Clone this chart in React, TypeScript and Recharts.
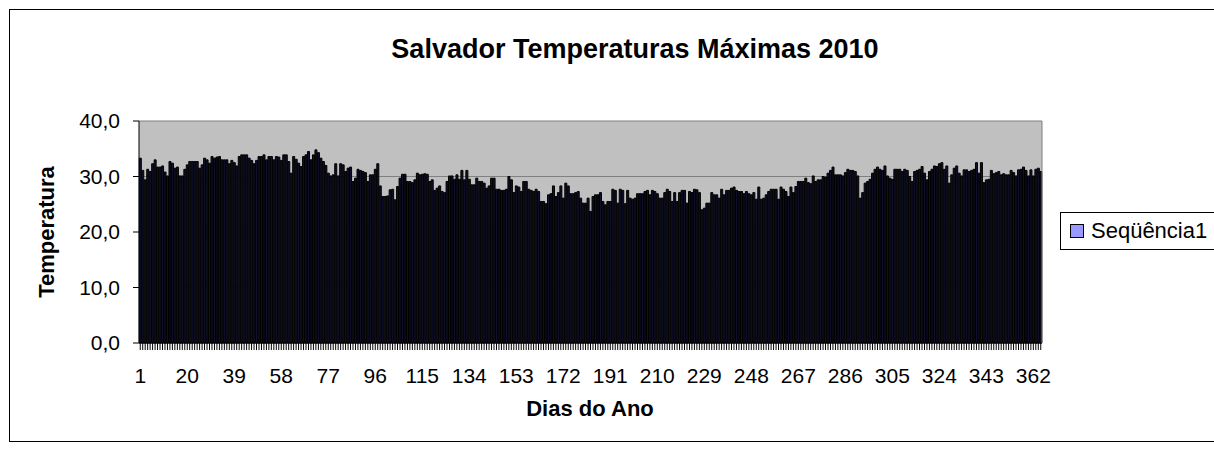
import { BarChart, Bar, XAxis, YAxis, CartesianGrid } from "recharts";

const FONT = '"Liberation Sans", Arial, sans-serif';

// temperaturas máximas diárias (°C), em blocos de 73 dias
const tmaxDias1a73 = [
  33.3, 31.1, 29.4, 31.3, 30.9, 32.3, 33.0, 31.7, 31.7, 31.9,
  30.8, 30.1, 32.7, 32.4, 31.5, 31.7, 30.1, 30.1, 31.3, 32.1,
  32.7, 32.7, 32.7, 32.7, 31.5, 32.1, 33.3, 33.0, 32.4, 33.6,
  33.3, 33.5, 33.6, 33.0, 33.0, 33.0, 32.3, 32.9, 32.5, 31.9,
  33.6, 33.9, 33.9, 33.9, 33.3, 32.9, 32.3, 32.9, 33.6, 33.6,
  33.9, 33.0, 33.6, 33.6, 33.0, 33.6, 33.5, 32.9, 33.9, 33.9,
  32.7, 30.6, 33.6, 33.1, 32.4, 31.8, 33.6, 33.9, 34.5, 33.0,
  33.9, 34.8, 34.3,
];
const tmaxDias74a146 = [
  33.3, 32.7, 32.0, 30.6, 30.1, 30.3, 32.3, 30.1, 32.3, 32.1,
  30.9, 31.5, 31.7, 29.1, 29.7, 31.3, 31.1, 30.9, 30.7, 29.1,
  30.3, 30.3, 31.3, 32.3, 28.3, 26.4, 26.4, 26.5, 27.6, 27.7,
  25.8, 28.2, 29.7, 30.4, 30.4, 29.1, 29.1, 28.9, 29.4, 30.6,
  30.3, 30.4, 30.5, 30.4, 29.1, 29.4, 27.5, 27.9, 28.3, 27.3,
  27.1, 29.1, 30.1, 30.1, 29.5, 30.3, 29.5, 31.1, 29.4, 31.1,
  29.5, 28.5, 28.5, 29.7, 29.1, 29.1, 28.8, 27.9, 28.3, 29.7,
  29.7, 27.7, 27.7,
];
const tmaxDias147a219 = [
  27.5, 27.5, 27.7, 30.0, 29.4, 27.1, 28.3, 28.1, 27.3, 29.1,
  29.1, 27.7, 27.5, 27.3, 27.7, 27.3, 25.5, 25.5, 25.1, 26.7,
  26.9, 28.3, 26.4, 27.1, 28.3, 26.1, 28.8, 28.3, 26.9, 26.9,
  27.1, 27.3, 26.1, 25.2, 25.2, 26.1, 23.7, 26.4, 26.7, 26.7,
  27.1, 25.5, 24.9, 25.5, 25.5, 27.7, 27.5, 25.2, 27.7, 27.5,
  25.1, 27.5, 26.1, 25.9, 26.1, 26.9, 26.9, 26.9, 27.3, 27.5,
  26.7, 27.5, 27.3, 26.9, 26.1, 26.1, 27.1, 27.7, 27.3, 25.5,
  27.1, 25.5, 27.1,
];
const tmaxDias220a292 = [
  27.5, 27.5, 25.2, 27.3, 27.1, 27.7, 27.6, 27.1, 24.0, 24.3,
  25.2, 25.2, 27.1, 26.7, 26.7, 26.1, 27.7, 26.7, 27.5, 27.5,
  27.9, 28.1, 27.5, 27.3, 27.3, 26.9, 27.3, 26.9, 26.7, 27.1,
  25.9, 28.1, 25.9, 26.1, 26.7, 27.3, 27.7, 27.7, 27.7, 25.9,
  28.1, 27.7, 27.3, 26.4, 28.1, 27.1, 28.2, 29.1, 29.1, 29.1,
  29.7, 28.9, 28.7, 30.1, 29.1, 29.4, 29.4, 30.0, 29.9, 30.6,
  31.1, 31.7, 30.3, 30.3, 30.3, 30.1, 30.7, 31.3, 31.1, 31.1,
  30.9, 30.1, 26.1,
];
const tmaxDias293a365 = [
  27.1, 28.8, 29.1, 29.5, 30.6, 31.3, 31.7, 31.3, 31.1, 31.9,
  30.1, 29.7, 29.5, 31.3, 31.3, 31.3, 30.9, 31.3, 31.1, 30.0,
  29.1, 30.9, 31.1, 31.3, 31.8, 30.6, 29.4, 30.9, 31.3, 31.9,
  31.8, 32.3, 32.5, 31.3, 31.9, 28.8, 30.3, 31.5, 31.9, 30.6,
  30.1, 31.2, 31.2, 30.9, 31.1, 31.3, 32.5, 30.6, 32.5, 28.9,
  29.4, 29.5, 31.1, 30.5, 30.7, 30.9, 30.3, 30.5, 30.3, 30.3,
  31.1, 30.7, 30.1, 31.2, 31.3, 31.7, 31.1, 30.1, 31.2, 30.1,
  31.3, 31.5, 30.9,
];

const tmax = [
  ...tmaxDias1a73, ...tmaxDias74a146, ...tmaxDias147a219,
  ...tmaxDias220a292, ...tmaxDias293a365,
];

const xLabelDays = [1, 20, 39, 58, 77, 96, 115, 134, 153, 172, 191, 210, 229, 248, 267, 286, 305, 324, 343, 362];
const yTicks = [0, 10, 20, 30, 40];

const data = tmax.map((t, i) => ({ day: i + 1, tmax: t }));
const labelSet = new Set(xLabelDays);

export default function App() {
  return (
    <div style={{ position: "relative", width: 1214, height: 457, overflow: "hidden", background: "#fff", fontFamily: FONT }}>
      <style>{`body{margin:0}`}</style>
      <div style={{ position: "absolute", left: 9, top: 9, width: 1230, height: 431, border: "1px solid #000" }} />
      <div style={{ position: "absolute", left: 0, width: 1270, top: 34, textAlign: "center", fontSize: 27, fontWeight: "bold" }}>
        Salvador Temperaturas Máximas 2010
      </div>
      <div style={{
        position: "absolute", left: 47, top: 232, transform: "translate(-50%, -50%) rotate(-90deg)",
        fontSize: 22, fontWeight: "bold", whiteSpace: "nowrap",
      }}>
        Temperatura
      </div>
      <div style={{ position: "absolute", left: 0, width: 1180, top: 396, textAlign: "center", fontSize: 22, fontWeight: "bold" }}>
        Dias do Ano
      </div>
      {/* legenda */}
      <div style={{
        position: "absolute", left: 1060, top: 212, width: 170, height: 38, boxSizing: "border-box",
        border: "1px solid #000", background: "#fff", display: "flex", alignItems: "center",
        paddingLeft: 9, fontSize: 22, color: "#000",
      }}>
        <span style={{ width: 12, height: 12, background: "#9999ff", border: "1px solid #000", marginRight: 7 }} />
        Seqüência1
      </div>
      <div style={{ position: "absolute", left: 0, top: 0 }}>
        <BarChart width={1214} height={457} data={data}
          margin={{ top: 121, right: 171, left: 0, bottom: 74 }}
          barCategoryGap="12%">
          <CartesianGrid vertical={false} stroke="#808080" fill="#c0c0c0" fillOpacity={1} />
          <XAxis
            dataKey="day"
            interval={0}
            height={40}
            tickSize={7}
            tickMargin={18}
            axisLine={{ stroke: "#000" }}
            tickLine={{ stroke: "#000" }}
            tick={{ fontSize: 21, fill: "#000", fontFamily: FONT }}
            tickFormatter={(v: number) => (labelSet.has(v) ? String(v) : "")}
          />
          <YAxis
            width={139}
            domain={[0, 40]}
            ticks={yTicks}
            interval={0}
            tickSize={6}
            tickMargin={13}
            axisLine={{ stroke: "#000" }}
            tickLine={{ stroke: "#000" }}
            tick={{ fontSize: 21, fill: "#000", fontFamily: FONT }}
            tickFormatter={(v: number) => v.toFixed(1).replace(".", ",")}
          />
          <YAxis yAxisId="borda" orientation="right" width={1} domain={[0, 40]}
            tick={false} tickLine={false} axisLine={{ stroke: "#808080" }} />
          <Bar dataKey="tmax" name="Seqüência1" fill="#10102a" stroke="#000" strokeWidth={1}
            isAnimationActive={false} />
        </BarChart>
      </div>
    </div>
  );
}
